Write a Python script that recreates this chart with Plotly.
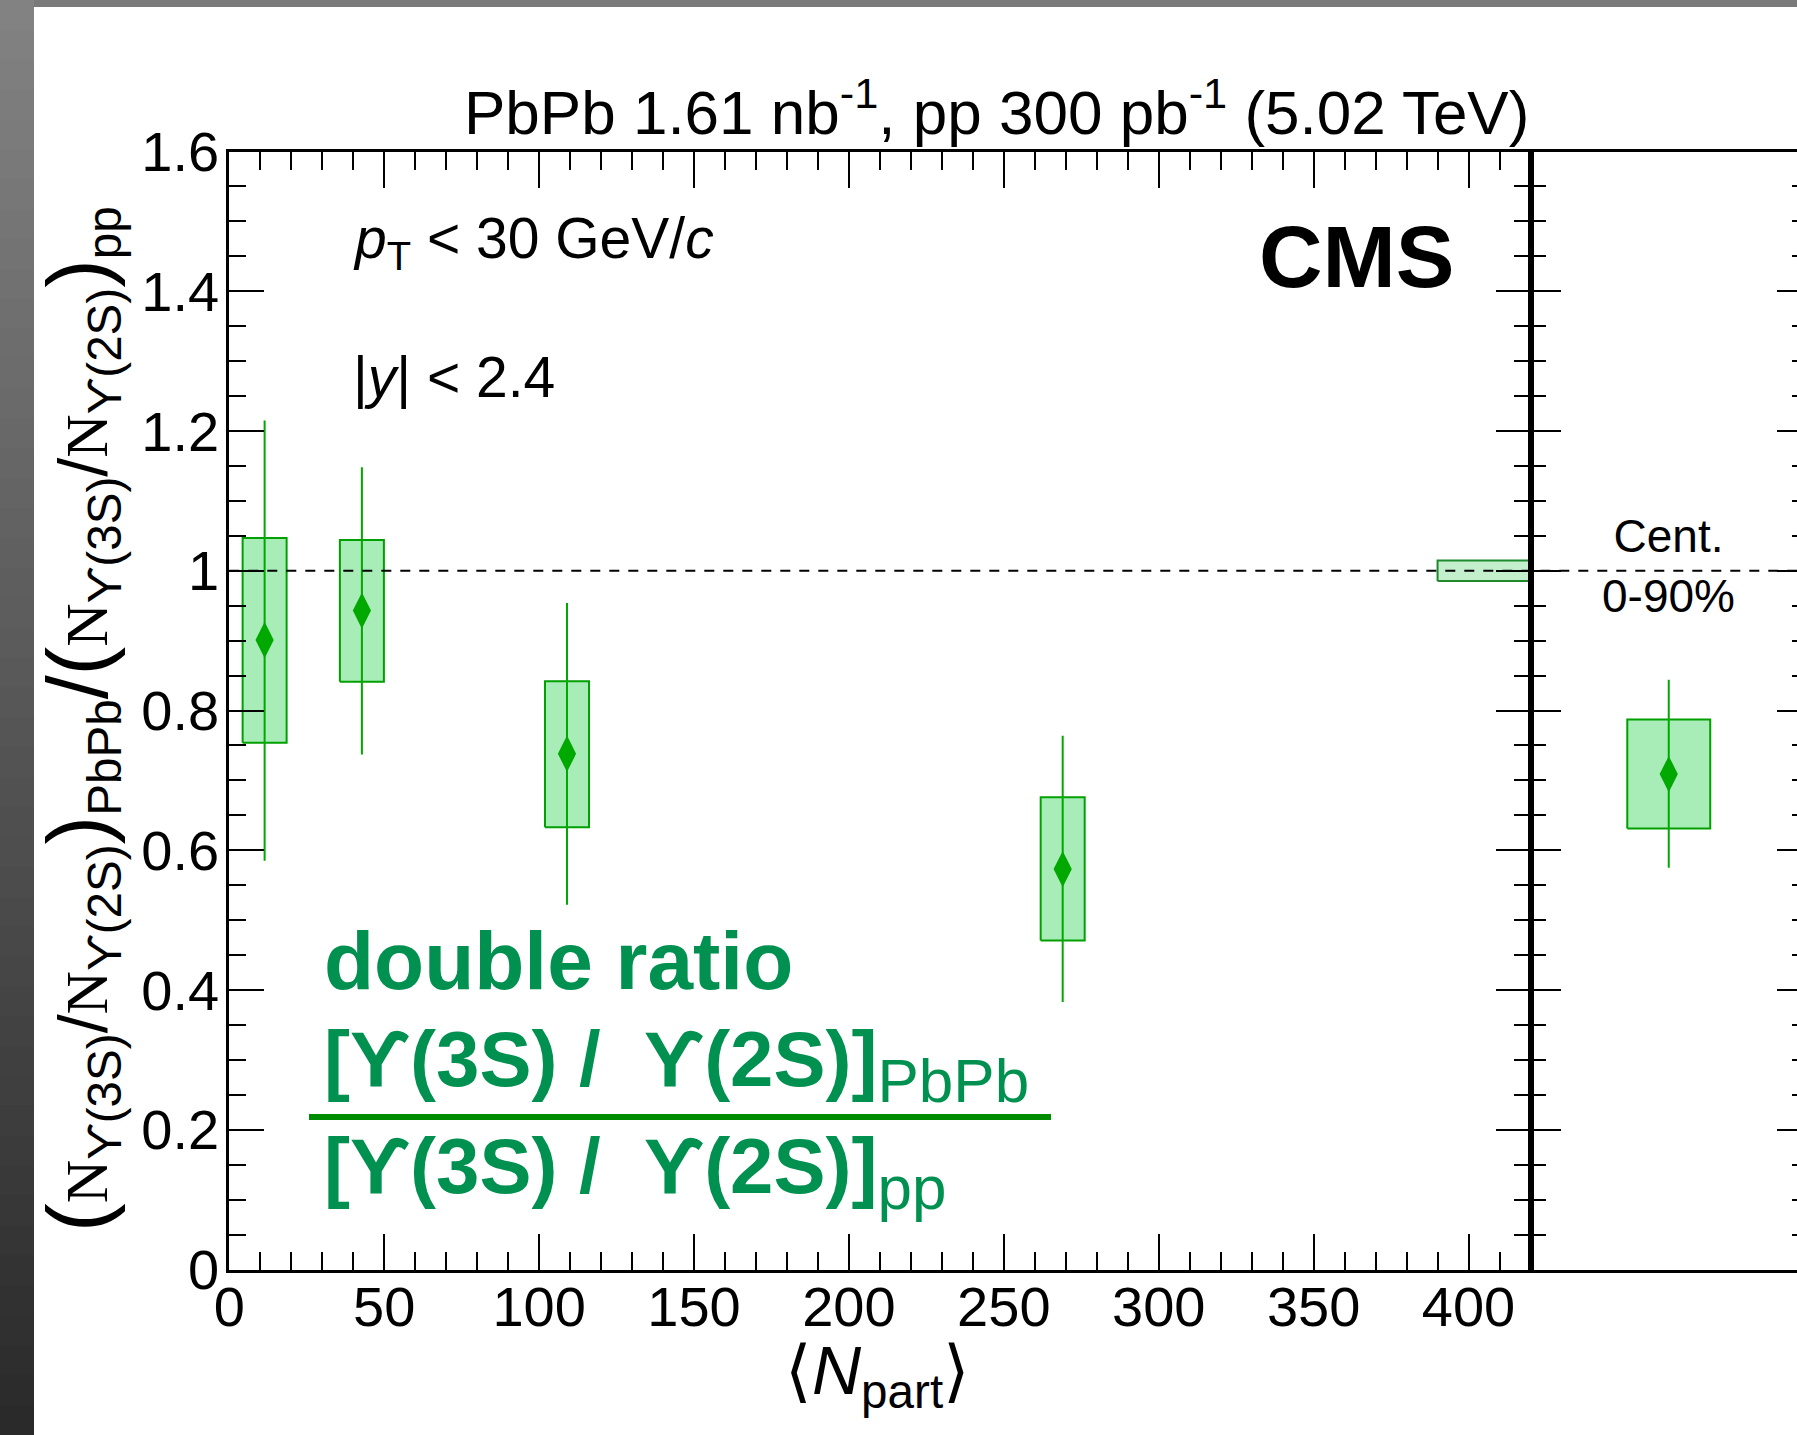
import plotly.graph_objects as go

W, H = 1797, 1435

# ---- data: Upsilon(3S)/Upsilon(2S) double ratio vs <Npart> ----
npart = [11.4, 42.8, 109.0, 269.0]
ratio = [0.901, 0.943, 0.738, 0.573]
stat_hi = [1.215, 1.148, 0.954, 0.764]
stat_lo = [0.585, 0.737, 0.522, 0.383]
syst_hi = [1.047, 1.044, 0.842, 0.676]
syst_lo = [0.754, 0.841, 0.633, 0.471]

# centrality-integrated (0-90%)
int_ratio = [0.709]
int_stat_hi = [0.844]
int_stat_lo = [0.575]
int_syst_hi = [0.787]
int_syst_lo = [0.631]

# global (pp luminosity) uncertainty around unity
glob_unc = 0.0145

x_tickvals = [0, 50, 100, 150, 200, 250, 300, 350, 400]
x_ticktext = ["0", "50", "100", "150", "200", "250", "300", "350", "400"]
y_tickvals = [0, 0.2, 0.4, 0.6, 0.8, 1.0, 1.2, 1.4, 1.6]
y_ticktext = ["0", "0.2", "0.4", "0.6", "0.8", "1", "1.2", "1.4", "1.6"]

# ---- style ----
FONT = "Liberation Sans, Arial, Helvetica, sans-serif"
BOX_FILL = "#a8edb8"
BOX_LINE = "#00a000"
PT_COLOR = "#00a800"
TXT_GREEN = "#009150"
BAR_GREEN = "#008c00"


def fx(px):
    return px / W


def fy(py):
    return 1 - py / H


L_X0, L_X1 = 229.3, 1530.5      # left panel frame (px)
P_Y0, P_Y1 = 151.5, 1269.5      # panel top / bottom (px)
HALF_W = 7.1                    # half width of systematic boxes (Npart units)
HALF_W_INT = 0.15               # same for the integrated panel


def box_path(xc, lo, hi, hw):
    xs, ys = [], []
    for x, l, h in zip(xc, lo, hi):
        xs += [x - hw, x + hw, x + hw, x - hw, x - hw, None]
        ys += [l, l, h, h, l, None]
    return xs, ys


fig = go.Figure()

# systematic boxes, Npart-binned
bx, by = box_path(npart, syst_lo, syst_hi, HALF_W)
fig.add_trace(go.Scatter(x=bx, y=by, mode="lines", fill="toself",
                         fillcolor=BOX_FILL, line=dict(color=BOX_LINE, width=2),
                         hoverinfo="skip", showlegend=False,
                         xaxis="x", yaxis="y"))

# global uncertainty box at the right edge of the Npart panel
gx, gy = box_path([405], [1 - glob_unc], [1 + glob_unc], 15)
fig.add_trace(go.Scatter(x=gx, y=gy, mode="lines", fill="toself",
                         fillcolor="#c4efcc", line=dict(color="#1f8a2c", width=2),
                         hoverinfo="skip", showlegend=False,
                         xaxis="x", yaxis="y"))

# points with statistical errors
fig.add_trace(go.Scatter(
    x=npart, y=ratio, mode="markers",
    marker=dict(symbol="diamond-tall", size=26, color=PT_COLOR, line=dict(width=0)),
    error_y=dict(type="data", symmetric=False,
                 array=[h - r for h, r in zip(stat_hi, ratio)],
                 arrayminus=[r - l for r, l in zip(ratio, stat_lo)],
                 width=0, thickness=2, color=PT_COLOR),
    showlegend=False, xaxis="x", yaxis="y"))

# integrated panel
ibx, iby = box_path([0.5], int_syst_lo, int_syst_hi, HALF_W_INT)
fig.add_trace(go.Scatter(x=ibx, y=iby, mode="lines", fill="toself",
                         fillcolor=BOX_FILL, line=dict(color=BOX_LINE, width=2),
                         hoverinfo="skip", showlegend=False,
                         xaxis="x2", yaxis="y2"))
fig.add_trace(go.Scatter(
    x=[0.5], y=int_ratio, mode="markers",
    marker=dict(symbol="diamond-tall", size=26, color=PT_COLOR, line=dict(width=0)),
    error_y=dict(type="data", symmetric=False,
                 array=[h - r for h, r in zip(int_stat_hi, int_ratio)],
                 arrayminus=[r - l for r, l in zip(int_ratio, int_stat_lo)],
                 width=0, thickness=2, color=PT_COLOR),
    showlegend=False, xaxis="x2", yaxis="y2"))
# carrier for the right-hand tick axis of the integrated panel
fig.add_trace(go.Scatter(x=[], y=[], xaxis="x2", yaxis="y3", showlegend=False))

tickfont = dict(family=FONT, size=56, color="black")

fig.update_layout(
    width=W, height=H,
    margin=dict(l=0, r=0, t=0, b=0),
    paper_bgcolor="white", plot_bgcolor="rgba(0,0,0,0)",
    showlegend=False,
    xaxis=dict(domain=[fx(L_X0), fx(L_X1)], range=[0, 420], anchor="y",
               tickmode="array", tickvals=x_tickvals, ticktext=x_ticktext,
               ticks="inside", ticklen=36, tickwidth=1.6, tickcolor="black",
               minor=dict(tickmode="linear", tick0=0, dtick=10, ticks="inside",
                          ticklen=18, tickwidth=1.6, tickcolor="black"),
               showline=True, linewidth=3, linecolor="black", mirror="ticks",
               showgrid=False, zeroline=False, tickfont=tickfont,
               ticklabelstandoff=-14, automargin=False),
    yaxis=dict(domain=[fy(P_Y1), fy(P_Y0)], range=[0, 1.6], anchor="x",
               tickmode="array", tickvals=y_tickvals, ticktext=y_ticktext,
               ticks="inside", ticklen=35, tickwidth=1.6, tickcolor="black",
               minor=dict(tickmode="linear", tick0=0, dtick=0.05, ticks="inside",
                          ticklen=17, tickwidth=1.6, tickcolor="black"),
               showline=True, linewidth=3, linecolor="black", mirror="ticks",
               showgrid=False, zeroline=False, tickfont=tickfont,
               ticklabelstandoff=-4, automargin=False),
    xaxis2=dict(domain=[fx(L_X1), 1.0], range=[0, (W - L_X1) / (1807 - L_X1)],
                anchor="y2", showline=True, linewidth=3, linecolor="black",
                mirror=True, ticks="", showticklabels=False, showgrid=False,
                zeroline=False, automargin=False),
    yaxis2=dict(domain=[fy(P_Y1), fy(P_Y0)], range=[0, 1.6], anchor="x2",
                tickmode="array", tickvals=y_tickvals,
                ticks="inside", ticklen=30, tickwidth=1.6, tickcolor="black",
                minor=dict(tickmode="linear", tick0=0, dtick=0.05, ticks="inside",
                           ticklen=15, tickwidth=1.6, tickcolor="black"),
                showticklabels=False, showline=True, linewidth=3,
                linecolor="black", mirror=False, showgrid=False,
                zeroline=False, automargin=False),
    yaxis3=dict(overlaying="y2", anchor="x2", side="right", range=[0, 1.6],
                tickmode="array", tickvals=y_tickvals,
                ticks="inside", ticklen=20, tickwidth=1.6, tickcolor="black",
                minor=dict(tickmode="linear", tick0=0, dtick=0.05, ticks="inside",
                           ticklen=5, tickwidth=1.6, tickcolor="black"),
                showticklabels=False, showline=False, showgrid=False,
                zeroline=False, automargin=False),
)

shapes = []
# dark frame around the slide: gradient strip on the left, thin strip on top
n_bands = 48
for i in range(n_bands):
    t = i / (n_bands - 1)
    g = int(round(130 - (130 - 42) * t))
    shapes.append(dict(type="rect", xref="paper", yref="paper",
                       x0=0, x1=fx(34), y0=fy(H * (i + 1) / n_bands) - 0.001,
                       y1=fy(H * i / n_bands),
                       fillcolor=f"rgb({g},{g},{g})", line=dict(width=0),
                       layer="below"))
shapes.append(dict(type="rect", xref="paper", yref="paper",
                   x0=fx(34), x1=1, y0=fy(7), y1=1,
                   fillcolor="rgb(122,122,122)", line=dict(width=0), layer="below"))
# unity reference line across both panels
shapes.append(dict(type="line", xref="paper", yref="y", x0=fx(L_X0), x1=1,
                   y0=1, y1=1, line=dict(color="black", width=2, dash="10px,9px")))
# fraction bar of the legend formula
shapes.append(dict(type="line", xref="paper", yref="paper", x0=fx(309), x1=fx(1051),
                   y0=fy(1117), y1=fy(1117), line=dict(color=BAR_GREEN, width=6)))
fig.update_layout(shapes=shapes)


def ann(text, x, y, size, xanchor="left", yanchor="top", color="black",
        xref="paper", yref="paper", **kw):
    return dict(text=text, x=x, y=y, xref=xref, yref=yref, xanchor=xanchor,
                yanchor=yanchor, showarrow=False,
                font=dict(family=FONT, size=size, color=color), **kw)


BIG = "font-size:86px"
NSER = '<span style="font-family:Liberation Serif;font-size:60px">N</span>'


def big(s):
    return f'<span style="{BIG}">{s}</span>'


y_title = (big("(") + NSER + "<sub>ϒ(3S)</sub>/" + NSER + "<sub>ϒ(2S)</sub>" + big(")")
           + "<sub>PbPb</sub>" + big("/")
           + big("(") + NSER + "<sub>ϒ(3S)</sub>/" + NSER + "<sub>ϒ(2S)</sub>" + big(")")
           + "<sub>pp</sub>")

SUBG = "font-size:62px;font-weight:normal"

annotations = [
    ann("PbPb 1.61 nb<sup>-1</sup>, pp 300 pb<sup>-1</sup> (5.02 TeV)",
        fx(L_X1), fy(149), 62, xanchor="right", yanchor="bottom"),
    ann("<i>p</i><sub>T</sub> &lt; 30 GeV/<i>c</i>", fx(351), fy(204), 57),
    ann("|<i>y</i>| &lt; 2.4", fx(351), fy(343), 57),
    ann("<b>CMS</b>", fx(1457), fy(205), 88, xanchor="right"),
    ann("Cent.<br>0-90%", 0.5, fy(508), 46, xanchor="center", xref="x2"),
    ann("<b>double ratio</b>", fx(322), fy(913), 82, color=TXT_GREEN),
    ann(f'<b>[ϒ(3S) / &nbsp;ϒ(2S)]</b><sub><span style="{SUBG}">PbPb</span></sub>',
        fx(322), fy(1013), 78, color=TXT_GREEN),
    ann(f'<b>[ϒ(3S) / &nbsp;ϒ(2S)]</b><sub><span style="{SUBG}">pp</span></sub>',
        fx(322), fy(1120), 78, color=TXT_GREEN),
    ann("⟨<i>N</i><sub>part</sub>⟩", fx(877), fy(1330), 68, xanchor="center"),
    ann(y_title, fx(80), fy(719), 68, xanchor="center", yanchor="middle",
        textangle=-90),
]
fig.update_layout(annotations=annotations)

fig.write_html("out.html", config={"displayModeBar": False})
